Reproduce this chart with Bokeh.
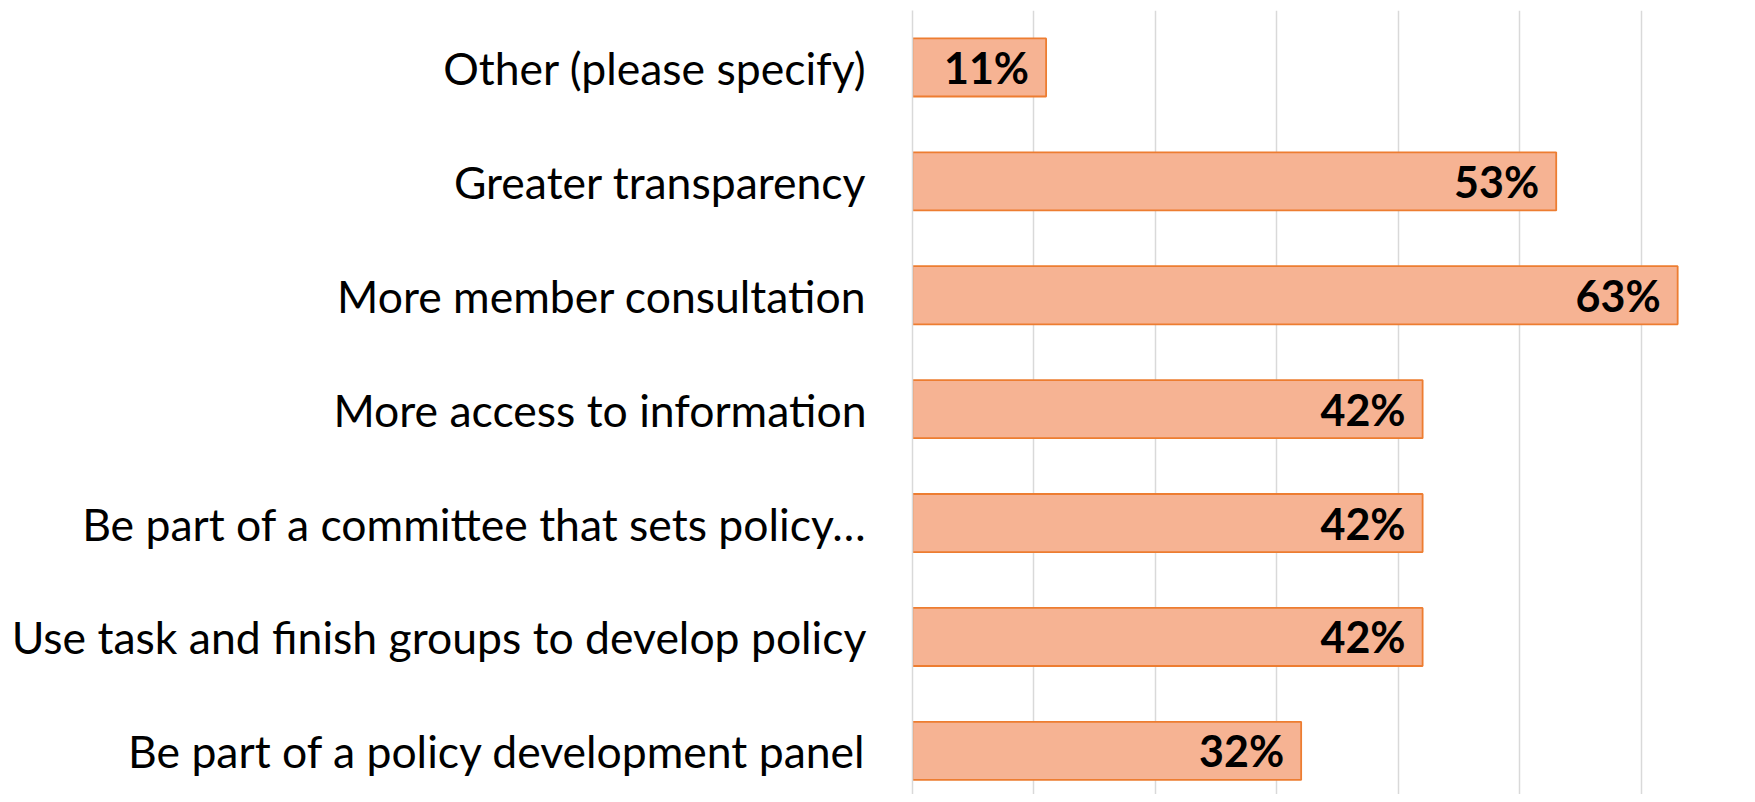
from bokeh.plotting import figure
from bokeh.models import ColumnDataSource, Range1d, FixedTicker
from bokeh.core.properties import value
from bokeh.embed import file_html
from bokeh.resources import INLINE

categories = [
    "Other (please specify)",
    "Greater transparency",
    "More member consultation",
    "More access to information",
    "Be part of a committee that sets policy\u2026",
    "Use task and finish groups to develop policy",
    "Be part of a policy development panel",
]
values = [11, 53, 63, 42, 42, 42, 32]
value_labels = ["11%", "53%", "63%", "42%", "42%", "42%", "32%"]

n = len(categories)
ypos = [n - 1 - i for i in range(n)]

src = ColumnDataSource(dict(y=ypos, v=values, lab=value_labels, cat=categories))

p = figure(width=1747, height=794, output_backend="svg", toolbar_location=None,
           x_range=Range1d(0, 68.75), y_range=Range1d(-0.383, 6.5),
           min_border_left=912, min_border_top=10, min_border_right=0, min_border_bottom=0)
p.outline_line_color = None
p.background_fill_color = "white"

p.hbar(y="y", right="v", left=0, height=0.51, source=src,
       fill_color="#F6B393", line_color="#ED7D31", line_width=1.8)

p.text(x="v", y="y", text="lab", source=src, x_offset=-17,
       text_align="right", text_baseline="middle",
       text_font=value("Lato"), text_font_style="bold", text_font_size="43px",
       text_color="black")

p.xaxis.visible = False
p.xaxis.ticker = FixedTicker(ticks=[0, 10, 20, 30, 40, 50, 60])
p.xgrid.ticker = FixedTicker(ticks=[0, 10, 20, 30, 40, 50, 60])
p.xgrid.grid_line_color = "#D9D9D9"
p.xgrid.grid_line_width = 1.5
p.ygrid.visible = False

yax = p.yaxis[0]
yax.ticker = FixedTicker(ticks=ypos)
yax.major_label_overrides = {y: c for y, c in zip(ypos, categories)}
yax.axis_line_color = "#D9D9D9"
yax.axis_line_width = 1.5
yax.major_tick_line_color = None
yax.minor_tick_line_color = None
yax.major_tick_out = 0
yax.major_tick_in = 0
yax.major_label_standoff = 46
yax.major_label_text_font = "Lato"
yax.major_label_text_font_size = "44.5px"
yax.major_label_text_color = "black"

open("out.html", "w").write(file_html(p, INLINE))
